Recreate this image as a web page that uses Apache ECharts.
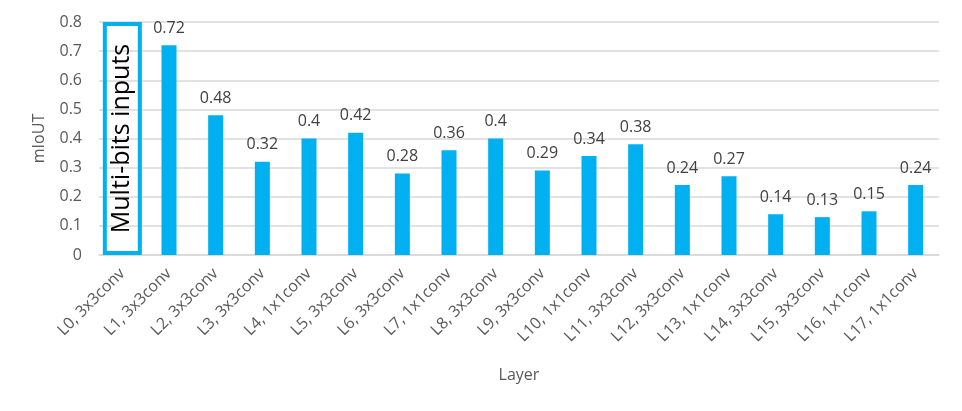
<!DOCTYPE html>
<html>
<head>
<meta charset="utf-8">
<script src="https://cdn.jsdelivr.net/npm/echarts@6/dist/echarts.min.js"></script>
<style>
html, body { margin: 0; padding: 0; background: #fff; }
#main { width: 962px; height: 411px; }
</style>
</head>
<body>
<div id="main"></div>
<script>
var layers = ['L0, 3x3conv', 'L1, 3x3conv', 'L2, 3x3conv', 'L3, 3x3conv', 'L4, 1x1conv',
	'L5, 3x3conv', 'L6, 3x3conv', 'L7, 1x1conv', 'L8, 3x3conv', 'L9, 3x3conv',
	'L10, 1x1conv', 'L11, 3x3conv', 'L12, 3x3conv', 'L13, 1x1conv', 'L14, 3x3conv',
	'L15, 3x3conv', 'L16, 1x1conv', 'L17, 1x1conv'];
// L0 has no value, it is the multi-bits input layer
var miout = ['-', 0.72, 0.48, 0.32, 0.4, 0.42, 0.28, 0.36, 0.4, 0.29,
	0.34, 0.38, 0.24, 0.27, 0.14, 0.13, 0.15, 0.24];
// frame around L0 column, full axis height
var boxValues = [0.8, '-', '-', '-', '-', '-', '-', '-', '-', '-',
	'-', '-', '-', '-', '-', '-', '-', '-'];
var yTicks = { min: 0, max: 0.8, interval: 0.1 };
var barColor = '#00B0F0';

var myChart = echarts.init(document.getElementById('main'));
var option = {
	animation: false,
	grid: { left: 99, right: 23, top: 22, bottom: 156, containLabel: false },
	xAxis: [{
		type: 'category',
		data: layers,
		name: 'Layer',
		nameLocation: 'middle',
		nameGap: 112,
		nameTextStyle: { color: '#595959', fontSize: 16, fontFamily: 'Open Sans' },
		axisLine: { lineStyle: { color: '#d9d9d9', width: 1.5 } },
		axisTick: { show: false },
		axisLabel: {
			interval: 0,
			rotate: 45,
			margin: 16,
			color: '#595959',
			fontSize: 16,
			fontFamily: 'Open Sans'
		}
	}, {
		// hidden twin axis, only so the frame is centred on its own
		type: 'category',
		data: layers,
		position: 'bottom',
		show: false
	}],
	yAxis: {
		type: 'value',
		min: yTicks.min,
		max: yTicks.max,
		interval: yTicks.interval,
		name: 'mIoUT',
		nameLocation: 'middle',
		nameGap: 52,
		nameTextStyle: { color: '#595959', fontSize: 16, fontFamily: 'Open Sans' },
		axisLine: { show: false },
		axisTick: { show: false },
		axisLabel: {
			color: '#595959',
			fontSize: 16,
			margin: 17,
			fontFamily: 'Open Sans',
			formatter: function (v) { return String(Math.round(v * 10) / 10); }
		},
		splitLine: { lineStyle: { color: '#d9d9d9', width: 1.5 } }
	},
	series: [
		{
			name: 'mIoUT',
			type: 'bar',
			data: miout,
			barWidth: 15,
			itemStyle: { color: barColor },
			label: {
				show: true,
				position: 'top',
				distance: 9,
				color: '#404040',
				fontSize: 16,
				fontFamily: 'Open Sans'
			}
		},
		{
			name: 'inputs',
			type: 'bar',
			xAxisIndex: 1,
			data: boxValues,
			barWidth: 39,
			silent: true,
			itemStyle: { color: 'rgba(0,0,0,0)', borderColor: barColor, borderWidth: 4 },
			label: {
				show: true,
				position: 'inside',
				rotate: 90,
				formatter: 'Multi-bits inputs',
				color: '#000',
				fontSize: 25,
				fontFamily: 'Open Sans'
			}
		}
	]
};
myChart.setOption(option);
</script>
</body>
</html>
